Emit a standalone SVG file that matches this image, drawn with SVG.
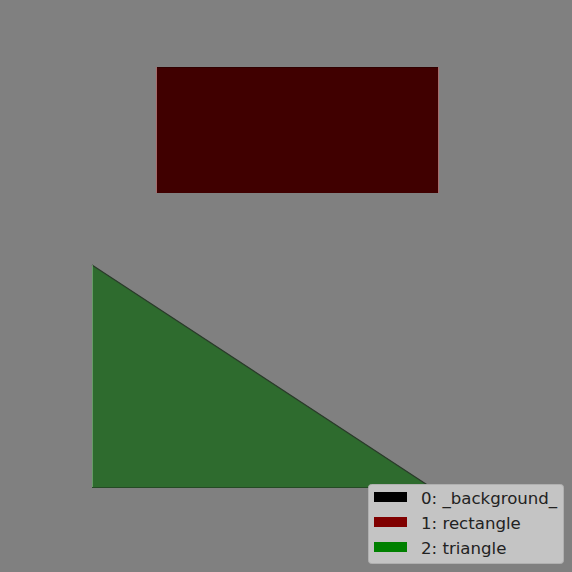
<svg xmlns="http://www.w3.org/2000/svg" width="572" height="572" viewBox="0 0 572 572">
<style>
.lbl{font-family:"DejaVu Sans",sans-serif;font-size:16.6px;fill:#222}
</style>
<rect width="572" height="572" fill="#808080"/>
<g id="rectangle">
<rect x="157" y="67" width="281" height="126" fill="#400000"/>
<line x1="157" y1="67.5" x2="438" y2="67.5" stroke="#300000" stroke-width="1"/>
<line x1="156.5" y1="67" x2="156.5" y2="193" stroke="#c06060" stroke-width="1" opacity="0.6"/>
<line x1="438.5" y1="67" x2="438.5" y2="193" stroke="#c06060" stroke-width="1" opacity="0.6"/>
</g>
<g id="triangle">
<polygon points="92,265 92,488 432,488" fill="#2e6b2e"/>
<line x1="92" y1="265" x2="432" y2="488" stroke="#2a3a2a" stroke-width="1.2"/>
<line x1="92.5" y1="265" x2="92.5" y2="488" stroke="#80b080" stroke-width="1" opacity="0.7"/>
<line x1="92" y1="487.5" x2="432" y2="487.5" stroke="#254a25" stroke-width="1"/>
</g>
<g id="legend">
<rect x="368.5" y="484.5" width="195" height="79" rx="3" fill="#c4c4c4" stroke="#b0b0b0"/>
<rect x="374" y="492" width="33" height="10" fill="#000"/>
<rect x="374" y="517" width="33" height="10" fill="#800000"/>
<rect x="374" y="542" width="33" height="10" fill="#008000"/>
<text class="lbl" x="421" y="503.5">0: _background_</text>
<text class="lbl" x="421" y="528.5">1: rectangle</text>
<text class="lbl" x="421" y="553.5">2: triangle</text>
</g>
</svg>
